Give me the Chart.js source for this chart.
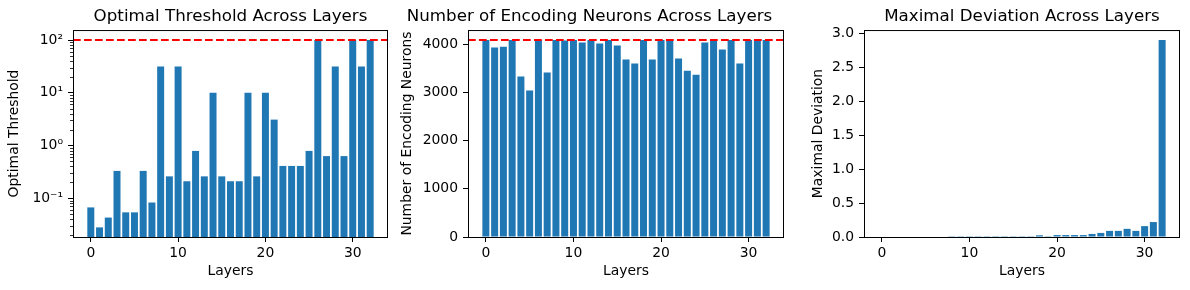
<!DOCTYPE html>
<html>
<head>
<meta charset="utf-8">
<script src="https://cdn.jsdelivr.net/npm/chart.js@4"></script>
<style>
  body { margin: 0; background: #fff; }
  .panel { position: absolute; top: 0; height: 290px; }
</style>
</head>
<body>
<div class="panel" style="left:0;width:395px"><canvas id="thresholdChart"></canvas></div>
<!-- wider box so the long title stays centred over the axes -->
<div class="panel" style="left:395px;width:462px"><canvas id="neuronChart"></canvas></div>
<div class="panel" style="left:790px;width:400px"><canvas id="deviationChart"></canvas></div>
<script>
// layer index on the x axis
const layers = [0, 1, 2, 3, 4, 5, 6, 7, 8, 9, 10, 11, 12, 13, 14, 15, 16,
  17, 18, 19, 20, 21, 22, 23, 24, 25, 26, 27, 28, 29, 30, 31, 32];

const thresholds = [0.067, 0.028, 0.043, 0.33, 0.054, 0.054, 0.33, 0.083,
  31.6, 0.26, 31.6, 0.21, 0.79, 0.26, 10, 0.26, 0.21, 0.21, 10, 0.26, 10,
  3.1, 0.41, 0.41, 0.41, 0.79, 100, 0.63, 31.6, 0.63, 100, 31.6, 100];

const neurons = [4096, 3936, 3956, 4096, 3333, 3042, 4096, 3416, 4096, 4085,
  4096, 4040, 4096, 4019, 4096, 3977, 3686, 3603, 4096, 3686, 4096, 4096,
  3707, 3457, 3374, 4040, 4096, 3894, 4096, 3603, 4096, 4096, 4096];

const deviations = [0, 0, 0, 0, 0, 0, 0, 0, 0.012, 0.012, 0.012, 0.012, 0.012,
  0.012, 0.012, 0.012, 0.012, 0.012, 0.025, 0.012, 0.028, 0.028, 0.028, 0.028,
  0.045, 0.06, 0.09, 0.09, 0.12, 0.09, 0.16, 0.22, 2.9];

const thresholdLimit = 100;
const neuronLimit = 4096;

const xTicks = [0, 10, 20, 30];
const thresholdTicks = [0.1, 1, 10, 100];
const thresholdLabels = ['10⁻¹', '10⁰', '10¹', '10²'];
const thresholdMinor = [0.02, 0.03, 0.04, 0.05, 0.06, 0.07, 0.08, 0.09,
  0.2, 0.3, 0.4, 0.5, 0.6, 0.7, 0.8, 0.9, 2, 3, 4, 5, 6, 7, 8, 9,
  20, 30, 40, 50, 60, 70, 80, 90];
const neuronTicks = [0, 1000, 2000, 3000, 4000];
const deviationTicks = [0, 0.5, 1, 1.5, 2, 2.5, 3];

Chart.defaults.font.family = "'DejaVu Sans', sans-serif";
Chart.defaults.font.size = 13.9;
Chart.defaults.color = '#000';

const barBlue = '#1f77b4';

// spines, the red reference line and minor log ticks
const decorPlugin = {
  id: 'decor',
  afterDatasetsDraw(chart, args, opts) {
    const ctx = chart.ctx;
    const area = chart.chartArea;
    const yScale = chart.scales.y;
    if (opts.limit !== undefined) {
      const y = yScale.getPixelForValue(opts.limit);
      ctx.save();
      ctx.beginPath();
      ctx.rect(area.left, area.top, area.right - area.left, area.bottom - area.top);
      ctx.clip();
      ctx.strokeStyle = '#ff0000';
      ctx.lineWidth = 2;
      ctx.setLineDash([7.7, 3.3]);
      ctx.beginPath();
      ctx.moveTo(area.left, y);
      ctx.lineTo(area.right, y);
      ctx.stroke();
      ctx.restore();
    }
    ctx.save();
    if (opts.minor) {
      ctx.strokeStyle = '#000';
      ctx.lineWidth = 0.8;
      opts.minor.forEach((v) => {
        const y = Math.round(yScale.getPixelForValue(v)) + 0.5;
        ctx.beginPath();
        ctx.moveTo(area.left - 3, y);
        ctx.lineTo(area.left, y);
        ctx.stroke();
      });
    }
    ctx.strokeStyle = '#000';
    ctx.lineWidth = 1;
    ctx.strokeRect(area.left + 0.5, area.top + 0.5, area.right - area.left - 1, area.bottom - area.top);
    ctx.restore();
  },
};

function makeChart(id, opts) {
  const ctx = document.getElementById(id).getContext('2d');
  return new Chart(ctx, {
    type: 'bar',
    data: {
      datasets: [{
        data: layers.map((x, i) => ({ x: x, y: opts.values[i] })),
        backgroundColor: barBlue,
        borderWidth: 0,
        categoryPercentage: 1.0,
        barPercentage: 0.8,
      }],
    },
    options: {
      responsive: true,
      maintainAspectRatio: false,
      animation: false,
      devicePixelRatio: 1,
      layout: { padding: { left: 0, right: opts.padRight, top: 0, bottom: 0 } },
      plugins: {
        legend: { display: false },
        tooltip: { enabled: false },
        title: {
          display: true,
          fullSize: !!opts.titleFull,
          text: opts.title,
          color: '#000',
          font: { size: 16.7, weight: 'normal' },
          padding: { top: 7, bottom: 3 },
        },
        decor: { limit: opts.limit, minor: opts.minor },
      },
      scales: {
        x: {
          type: 'linear',
          min: -2.04,
          max: 34.04,
          offset: false,
          afterBuildTicks: (s) => { s.ticks = xTicks.map((v) => ({ value: v })); },
          afterFit: (s) => { s.height = 53; },
          grid: { drawOnChartArea: false, tickLength: 5, tickColor: '#000', tickWidth: 1, offset: false },
          border: { display: false },
          ticks: { padding: 3, maxRotation: 0, autoSkip: false },
          title: { display: true, text: 'Layers', padding: { top: 0, bottom: 10 } },
        },
        y: {
          type: opts.yType,
          min: opts.yMin,
          max: opts.yMax,
          afterBuildTicks: (s) => { s.ticks = opts.yTicks.map((v) => ({ value: v })); },
          afterFit: (s) => { s.width = opts.axisWidth; },
          grid: { drawOnChartArea: false, tickLength: 5, tickColor: '#000', tickWidth: 1 },
          border: { display: false },
          ticks: { padding: 5, autoSkip: false, callback: opts.yLabel },
          title: { display: true, text: opts.yTitle, padding: { top: opts.titlePad, bottom: 0 } },
        },
      },
    },
    plugins: [decorPlugin],
  });
}

makeChart('thresholdChart', {
  values: thresholds,
  title: 'Optimal Threshold Across Layers',
  yTitle: 'Optimal Threshold',
  yType: 'logarithmic',
  yMin: 0.0184,
  yMax: 155,
  yTicks: thresholdTicks,
  yLabel: (v, i) => thresholdLabels[i],
  minor: thresholdMinor,
  limit: thresholdLimit,
  axisWidth: 73,
  padRight: 7,
  titlePad: 6.5,
});

makeChart('neuronChart', {
  values: neurons,
  title: 'Number of Encoding Neurons Across Layers',
  titleFull: true,
  yTitle: 'Number of Encoding Neurons',
  yType: 'linear',
  yMin: 0,
  yMax: 4300.8,
  yTicks: neuronTicks,
  yLabel: (v) => String(v),
  limit: neuronLimit,
  axisWidth: 73,
  padRight: 73,
  titlePad: 4.5,
});

makeChart('deviationChart', {
  values: deviations,
  title: 'Maximal Deviation Across Layers',
  yTitle: 'Maximal Deviation',
  yType: 'linear',
  yMin: 0,
  yMax: 3.045,
  yTicks: deviationTicks,
  yLabel: (v) => v.toFixed(1),
  axisWidth: 74,
  padRight: 10,
  titlePad: 20.5,
});
</script>
</body>
</html>
